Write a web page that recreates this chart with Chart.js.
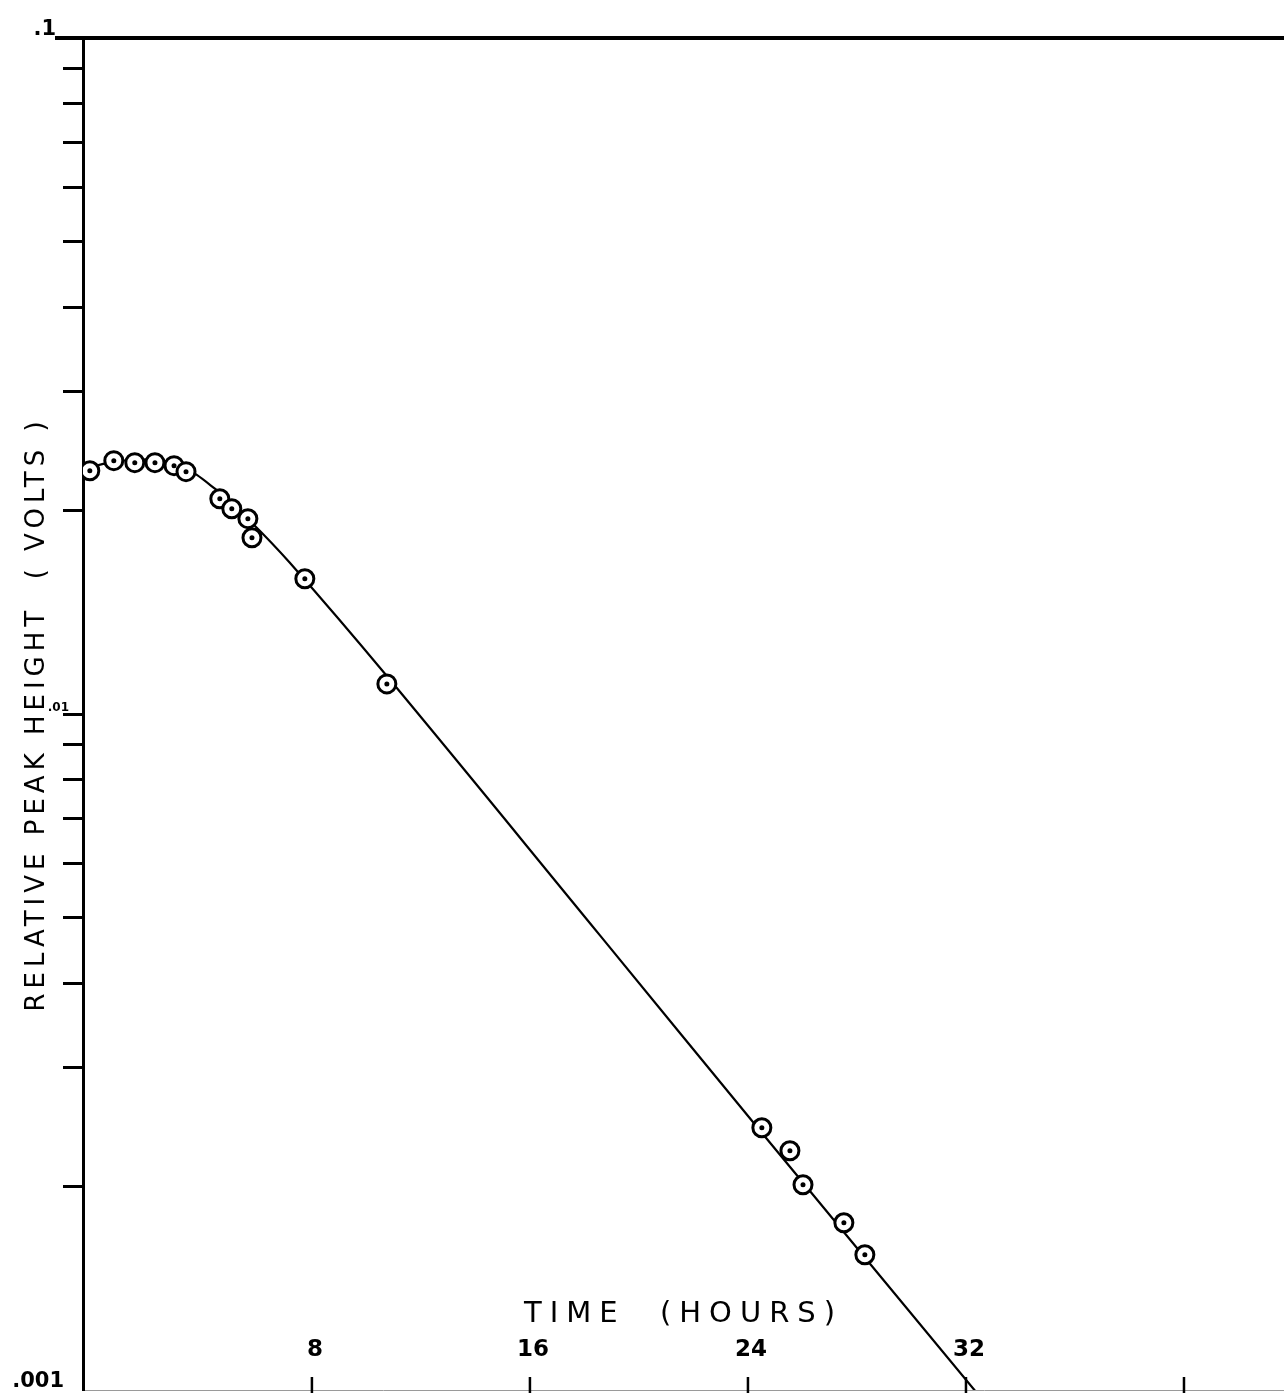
<!DOCTYPE html>
<html>
<head>
<meta charset="utf-8">
<script src="https://cdn.jsdelivr.net/npm/chart.js@4/dist/chart.umd.min.js"></script>
<style>
  html, body { margin: 0; padding: 0; background: #fff; }
  canvas { display: block; }
</style>
</head>
<body>
<canvas id="decayChart" width="1284" height="1393"></canvas>
<script>
// measured points (hours, volts)
const pointHours = [-0.15, 0.73, 1.5, 2.24, 2.94, 3.38, 4.62, 5.06, 5.65, 5.8, 7.74, 10.75, 24.51, 25.54, 26.02, 27.52, 28.29];
const pointVolts = [0.0229, 0.0237, 0.02354, 0.02354, 0.0233, 0.02283, 0.02082, 0.02012, 0.01945, 0.01823, 0.01585, 0.01108, 0.002443, 0.002259, 0.002012, 0.001768, 0.001585];

// hand drawn fit curve
const curveHours = [-0.33, 0.77, 2.06, 3.16, 4.44, 5.72, 7.19, 10.75, 18.57, 24.5, 32.4];
const curveVolts = [0.02307, 0.02362, 0.02378, 0.0233, 0.02154, 0.01932, 0.01674, 0.01138, 0.004705, 0.002404, 0.00099];

const xTicks = [8, 16, 24, 32, 40];
const xTickLabels = ['8', '16', '24', '32', ''];
const yTicks = [0.001, 0.002, 0.003, 0.004, 0.005, 0.006, 0.007, 0.008, 0.009,
  0.01, 0.02, 0.03, 0.04, 0.05, 0.06, 0.07, 0.08, 0.09, 0.1];
const yLabelValues = [0.1, 0.01, 0.001];
const yLabelTexts = ['.1', '.01', '.001'];

const ink = '#000';

// wider letter spacing for the hand lettered axis titles
function spaceTitle(scale, spacing) {
  if (scale._spaced) return;
  const orig = scale.drawTitle;
  scale.drawTitle = function () {
    this.ctx.save();
    this.ctx.letterSpacing = spacing;
    orig.call(this);
    this.ctx.restore();
  };
  scale._spaced = true;
}

const handPlugin = {
  id: 'hand',
  beforeDraw(chart) {
    spaceTitle(chart.scales.x, '8px');
    spaceTitle(chart.scales.y, '5px');
  },
  afterDraw(chart) {
    const ctx = chart.ctx;
    const xs = chart.scales.x;
    const ys = chart.scales.y;
    const area = chart.chartArea;
    ctx.save();
    ctx.strokeStyle = ink;
    ctx.fillStyle = ink;
    // top border line
    ctx.lineWidth = 4;
    const topY = ys.getPixelForValue(0.1);
    ctx.beginPath();
    ctx.moveTo(55, topY);
    ctx.lineTo(chart.width, topY);
    ctx.stroke();
    // x ticks pointing up into the plot, labels above them
    ctx.lineWidth = 2.5;
    ctx.font = 'bold 23px "DejaVu Sans"';
    ctx.textAlign = 'center';
    ctx.textBaseline = 'middle';
    xTicks.forEach((v, i) => {
      const px = xs.getPixelForValue(v);
      ctx.beginPath();
      ctx.moveTo(px, area.bottom + 3);
      ctx.lineTo(px, area.bottom - 13);
      ctx.stroke();
      ctx.fillText(xTickLabels[i], px + 3, area.bottom - 40);
    });
    // y decade labels
    ctx.textAlign = 'right';
    yLabelValues.forEach((v, i) => {
      const py = ys.getPixelForValue(v);
      if (v === 0.01) {
        ctx.font = 'bold 12px "DejaVu Sans"';
        ctx.fillText(yLabelTexts[i], ys.right - 14, py - 6);
      } else {
        ctx.font = 'bold 21px "DejaVu Sans"';
        ctx.fillText(yLabelTexts[i], v === 0.1 ? 56 : 64, py - 8);
      }
    });
    // centre dots of the circled points
    const meta = chart.getDatasetMeta(1);
    meta.data.forEach(pt => {
      ctx.beginPath();
      ctx.arc(pt.x, pt.y, 2.5, 0, Math.PI * 2);
      ctx.fill();
    });
    ctx.restore();
  }
};

const ctx = document.getElementById('decayChart').getContext('2d');
new Chart(ctx, {
  type: 'scatter',
  data: {
    datasets: [
      {
        type: 'line',
        label: 'fit',
        data: curveHours.map((h, i) => ({ x: h, y: curveVolts[i] })),
        borderColor: ink,
        borderWidth: 2.2,
        pointRadius: 0,
        tension: 0.4,
        fill: false,
        order: 2
      },
      {
        label: 'peak height',
        data: pointHours.map((h, i) => ({ x: h, y: pointVolts[i] })),
        pointRadius: 9,
        pointBorderWidth: 3,
        pointBorderColor: ink,
        pointBackgroundColor: '#fff',
        order: 1
      }
    ]
  },
  options: {
    responsive: false,
    animation: false,
    devicePixelRatio: 1,
    layout: { autoPadding: false, padding: { top: 38, right: 0, bottom: 0, left: 0 } },
    plugins: {
      legend: { display: false },
      tooltip: { enabled: false }
    },
    scales: {
      x: {
        type: 'linear',
        min: -0.4,
        max: 43.67,
        afterBuildTicks: scale => { scale.ticks = xTicks.map(v => ({ value: v })); },
        afterFit: scale => { scale.height = 3; },
        grid: { drawOnChartArea: false, drawTicks: false },
        border: { display: true, color: '#9a9a9a', width: 1 },
        ticks: { display: false },
        title: {
          display: true,
          text: 'TIME  (HOURS)',
          color: ink,
          font: { family: 'DejaVu Sans', size: 29 },
          padding: { top: 0, bottom: 61 }
        }
      },
      y: {
        type: 'logarithmic',
        min: 0.001,
        max: 0.1,
        afterBuildTicks: scale => { scale.ticks = yTicks.map(v => ({ value: v })); },
        afterFit: scale => { scale.width = 83; },
        grid: {
          drawOnChartArea: false,
          drawTicks: true,
          tickLength: 20,
          tickWidth: 3,
          color: c => (c.tick && (c.tick.value === 0.1 || c.tick.value === 0.001)) ? 'rgba(0,0,0,0)' : ink
        },
        border: { display: true, color: ink, width: 3 },
        ticks: { display: false },
        title: {
          display: true,
          text: 'RELATIVE PEAK HEIGHT  ( VOLTS )',
          color: ink,
          font: { family: 'DejaVu Sans', size: 26 },
          padding: { top: 22, bottom: 0 }
        }
      }
    }
  },
  plugins: [handPlugin]
});
</script>
</body>
</html>
